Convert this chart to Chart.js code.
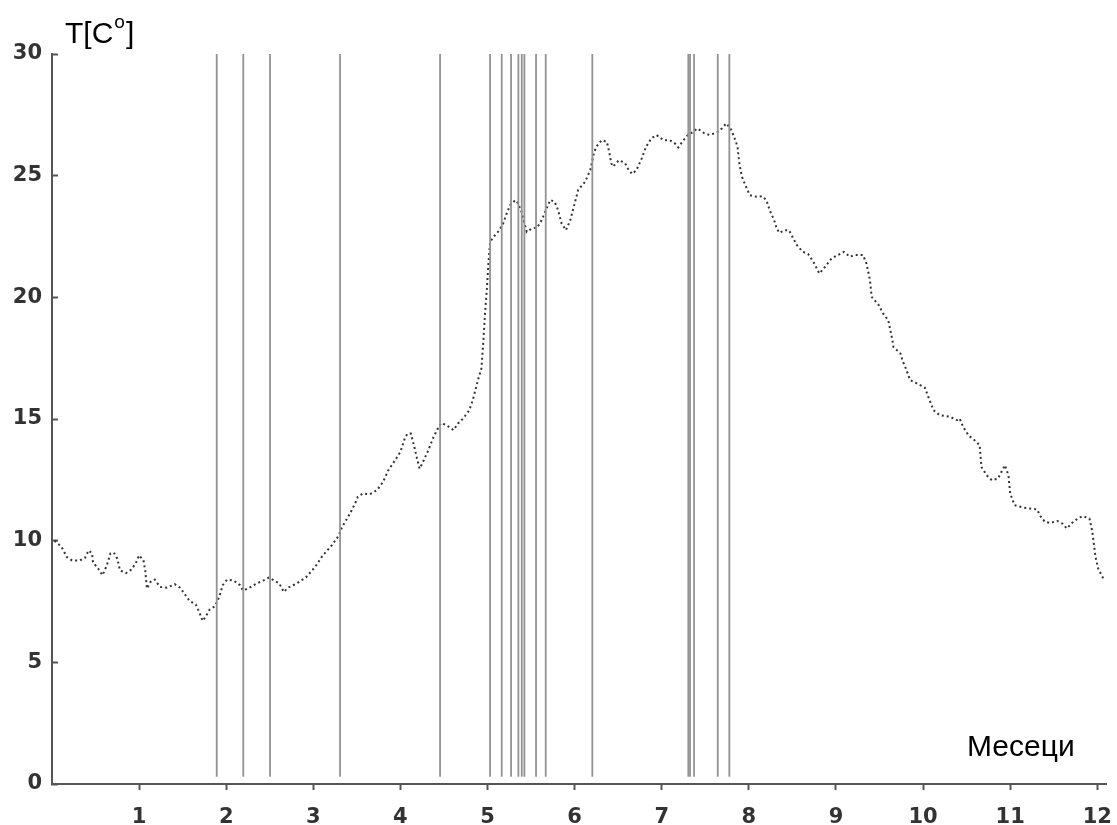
<!DOCTYPE html>
<html>
<head>
<meta charset="utf-8">
<script src="https://cdn.jsdelivr.net/npm/chart.js@4"></script>
<style>
  html, body { margin: 0; padding: 0; background: #fff; }
</style>
</head>
<body>
<canvas id="tempChart" width="1117" height="825"></canvas>
<script>
// Tick labels
const monthTicks = [1, 2, 3, 4, 5, 6, 7, 8, 9, 10, 11, 12];
const tempTicks = [0, 5, 10, 15, 20, 25, 30];

// Temperature curve (months, degrees C)
const dayX = [0.03, 0.11, 0.17, 0.23, 0.32, 0.38, 0.42, 0.46, 0.47, 0.53, 0.58, 0.63, 0.67, 0.71, 0.75, 0.78, 0.85, 0.91, 0.96,
  1.00, 1.05, 1.07, 1.09, 1.13, 1.18, 1.24, 1.32, 1.41, 1.47, 1.52, 1.58, 1.65, 1.69, 1.73, 1.76, 1.81, 1.87, 1.92, 1.96,
  2.01, 2.08, 2.16, 2.19, 2.25, 2.35, 2.43, 2.49, 2.56, 2.61, 2.66, 2.71, 2.81, 2.92,
  3.02, 3.11, 3.21, 3.29, 3.33, 3.42, 3.48, 3.51, 3.57, 3.65, 3.73, 3.80, 3.86, 3.94,
  4.00, 4.05, 4.08, 4.12, 4.16, 4.19, 4.22, 4.26, 4.32, 4.38, 4.44, 4.47, 4.53, 4.61, 4.66, 4.72, 4.79, 4.83, 4.86, 4.89, 4.93, 4.95, 4.97, 4.99,
  5.01, 5.03, 5.07, 5.12, 5.18, 5.22, 5.26, 5.32, 5.35, 5.39, 5.45, 5.51, 5.57, 5.62, 5.67, 5.72, 5.77, 5.81, 5.85, 5.90, 5.95, 5.99,
  6.04, 6.12, 6.18, 6.22, 6.25, 6.31, 6.37, 6.40, 6.42, 6.44, 6.51, 6.58, 6.62, 6.66, 6.71, 6.77, 6.82, 6.88, 6.94,
  7.02, 7.09, 7.15, 7.19, 7.25, 7.30, 7.36, 7.41, 7.49, 7.55, 7.63, 7.69, 7.74, 7.79, 7.83, 7.87, 7.89, 7.92, 7.96,
  8.01, 8.09, 8.15, 8.20, 8.24, 8.29, 8.32, 8.35, 8.41, 8.46, 8.50, 8.55, 8.62, 8.68, 8.74, 8.81, 8.89, 8.95,
  9.09, 9.16, 9.22, 9.31, 9.35, 9.39, 9.41, 9.49, 9.54, 9.60, 9.64, 9.66, 9.74, 9.77, 9.81, 9.85, 9.93,
  10.02, 10.06, 10.12, 10.19, 10.31, 10.39, 10.42, 10.46, 10.52, 10.59, 10.65, 10.67, 10.73, 10.79, 10.86, 10.90, 10.94, 10.98,
  11.00, 11.05, 11.15, 11.23, 11.31, 11.34, 11.40, 11.46, 11.54, 11.60, 11.65, 11.71, 11.79, 11.84, 11.91, 11.94, 11.96, 11.98,
  12.01, 12.05, 12.07];
const tempC = [10.0, 9.74, 9.33, 9.19, 9.19, 9.30, 9.60, 9.47, 9.12, 8.85, 8.58, 8.99, 9.47, 9.51, 9.26, 8.78, 8.67, 8.81, 9.06,
  9.40, 9.19, 8.78, 8.03, 8.30, 8.40, 8.10, 8.07, 8.21, 8.07, 7.82, 7.52, 7.38, 7.07, 6.70, 6.86, 7.17, 7.30, 7.69, 8.17,
  8.40, 8.37, 8.17, 7.96, 8.03, 8.24, 8.37, 8.48, 8.34, 8.24, 7.89, 8.07, 8.24, 8.51,
  8.92, 9.40, 9.80, 10.2, 10.56, 11.11, 11.53, 11.80, 11.94, 11.91, 12.07, 12.41, 12.89, 13.31,
  13.65, 14.20, 14.40, 14.40, 13.85, 13.38, 12.96, 13.24, 13.72, 14.26, 14.68, 14.84, 14.74, 14.54, 14.81, 15.02, 15.36, 15.77, 16.18, 16.60, 17.08, 18.10, 19.27, 20.23,
  21.39, 22.28, 22.49, 22.69, 23.04, 23.45, 23.79, 24.00, 23.86, 23.52, 22.69, 22.83, 22.87, 23.17, 23.58, 24.00, 23.93, 23.58, 23.04, 22.76, 23.17, 23.72,
  24.41, 24.75, 25.23, 25.92, 26.19, 26.46, 26.39, 25.92, 25.51, 25.37, 25.64, 25.51, 25.23, 25.07, 25.23, 25.71, 26.19, 26.53, 26.67,
  26.46, 26.46, 26.33, 26.16, 26.46, 26.67, 26.80, 26.94, 26.74, 26.67, 26.77, 26.94, 27.15, 26.94, 26.60, 26.19, 25.51, 24.96, 24.61,
  24.20, 24.13, 24.16, 24.00, 23.58, 23.17, 22.83, 22.65, 22.76, 22.76, 22.49, 22.15, 21.87, 21.78, 21.46, 20.98, 21.32, 21.60,
  21.87, 21.67, 21.74, 21.74, 21.39, 20.71, 20.02, 19.68, 19.34, 19.06, 18.38, 17.96, 17.69, 17.35, 17.01, 16.60, 16.46,
  16.29, 15.91, 15.36, 15.16, 15.09, 14.95, 15.02, 14.68, 14.33, 14.13, 13.92, 13.03, 12.69, 12.48, 12.55, 12.83, 13.10, 12.69,
  11.94, 11.46, 11.36, 11.32, 11.28, 11.04, 10.77, 10.73, 10.81, 10.70, 10.50, 10.73, 10.95, 11.00, 10.91, 10.43, 9.88, 9.33,
  8.85, 8.58, 8.44];

// Vertical marker lines (months)
const markerMonths = [1.891, 2.196, 2.503, 3.307, 4.455, 5.029, 5.163, 5.270, 5.354, 5.393, 5.423, 5.557, 5.668, 6.203,
  7.305, 7.325, 7.371, 7.643, 7.776];
const markerLow = 0.3;
const markerHigh = 30;

const tickFont = { family: "'DejaVu Sans', sans-serif", weight: 'bold', size: 21 };

// Axis captions drawn on the canvas
const captions = {
  id: 'captions',
  afterDraw(chart) {
    const ctx = chart.ctx;
    ctx.save();
    ctx.fillStyle = '#000';
    ctx.textBaseline = 'alphabetic';
    ctx.font = "30px 'Liberation Sans', Arial, sans-serif";
    let x = 65;
    ctx.fillText('T[C', x, 43);
    x += ctx.measureText('T[C').width + 1;
    ctx.font = "19px 'Liberation Sans', Arial, sans-serif";
    ctx.fillText('o', x, 28);
    x += ctx.measureText('o').width + 1;
    ctx.font = "30px 'Liberation Sans', Arial, sans-serif";
    ctx.fillText(']', x, 43);
    ctx.fillText('Месеци', 967, 756);
    ctx.restore();
  }
};

const datasets = markerMonths.map(m => ({
  data: [{ x: m, y: markerLow }, { x: m, y: markerHigh }],
  borderColor: '#929292',
  borderWidth: 1.8,
  pointRadius: 0
}));
datasets.push({
  data: dayX.map((x, i) => ({ x: x, y: tempC[i] })),
  borderColor: '#333',
  borderWidth: 2,
  borderDash: [2, 3],
  pointRadius: 0,
  tension: 0
});

new Chart(document.getElementById('tempChart'), {
  type: 'line',
  data: { datasets: datasets },
  options: {
    responsive: false,
    devicePixelRatio: 1,
    animation: false,
    layout: { padding: { top: 54, right: 11, left: 0, bottom: 0 } },
    plugins: { legend: { display: false }, tooltip: { enabled: false }, title: { display: false } },
    scales: {
      x: {
        type: 'linear',
        min: 0,
        max: 12.1,
        afterBuildTicks: s => { s.ticks = monthTicks.map(v => ({ value: v })); },
        afterFit: s => { s.height = 41; s.paddingLeft = 0; s.paddingRight = 0; },
        grid: { drawOnChartArea: false, drawTicks: true, tickLength: 6, tickWidth: 2, tickColor: '#555' },
        border: { display: true, color: '#555', width: 2 },
        ticks: { font: tickFont, color: '#333', padding: 15, maxRotation: 0, autoSkip: false }
      },
      y: {
        min: 0,
        max: 30,
        afterBuildTicks: s => { s.ticks = tempTicks.map(v => ({ value: v })); },
        afterFit: s => { s.width = 52; s.paddingTop = 0; s.paddingBottom = 0; },
        grid: { drawOnChartArea: false, drawTicks: true, tickLength: -6, tickWidth: 2, tickColor: '#555' },
        border: { display: true, color: '#555', width: 2 },
        ticks: { font: tickFont, color: '#333', padding: 16, autoSkip: false }
      }
    }
  },
  plugins: [captions]
});
</script>
</body>
</html>
